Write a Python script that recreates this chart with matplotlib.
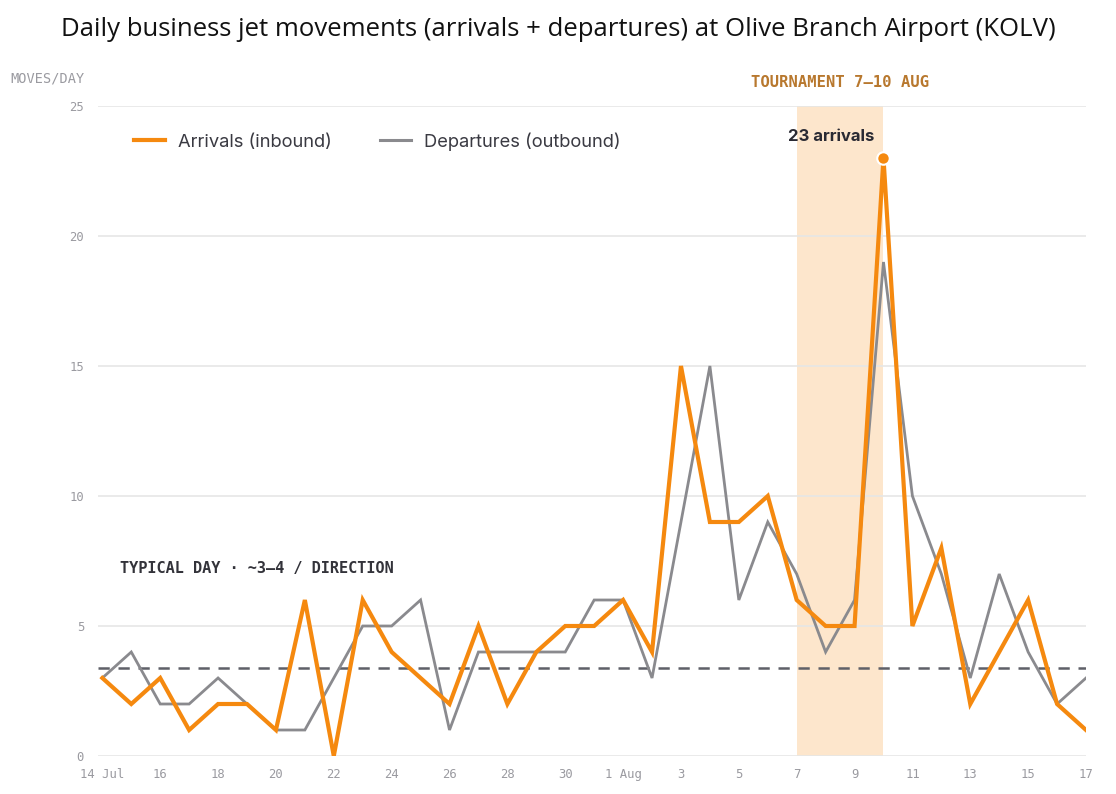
import matplotlib
matplotlib.use("Agg")
import matplotlib.pyplot as plt
from matplotlib.lines import Line2D

# ---- data ----
tick_labels = ["14 Jul", "16", "18", "20", "22", "24", "26", "28", "30", "1 Aug",
               "3", "5", "7", "9", "11", "13", "15", "17"]
days = list(range(35))  # 14 Jul .. 17 Aug
arrivals = [3, 2, 3, 1, 2, 2, 1, 6, 0, 6, 4, 3, 2, 5, 2, 4, 5, 5,
            6, 4, 15, 9, 9, 10, 6, 5, 5, 23, 5, 8, 2, 4, 6, 2, 1]
departures = [3, 4, 2, 2, 3, 2, 1, 1, 3, 5, 5, 6, 1, 4, 4, 4, 4, 6,
              6, 3, 9, 15, 6, 9, 7, 4, 6, 19, 10, 7, 3, 7, 4, 2, 3]
typical = 3.4
band_start, band_end = 24, 27  # 7 Aug .. 10 Aug
peak_idx = 27

ORANGE = "#F5890F"
GRAY = "#8A8A8E"
BAND = "#FDE6CC"
MONO = "DejaVu Sans Mono"

fig = plt.figure(figsize=(11.16, 7.94), dpi=100)
ax = fig.add_axes([98/1116, 38/794, (1086-98)/1116, (756-106)/794])

ax.axvspan(band_start, band_end, color=BAND, lw=0, zorder=0)
for y in [0, 5, 10, 15, 20, 25]:
    ax.axhline(y, color="#E6E6E6", lw=1.2, zorder=0.5)

ax.axhline(typical, color="#5F6068", lw=1.8, ls=(0, (4.5, 3.5)), zorder=1)
ax.plot(days, departures, color=GRAY, lw=2.0, zorder=2, solid_joinstyle="miter")
ax.plot(days, arrivals, color=ORANGE, lw=3.0, zorder=3, solid_joinstyle="miter")
ax.plot([days[peak_idx]], [arrivals[peak_idx]], "o", color=ORANGE, ms=9,
        mec="white", mew=1.5, zorder=4)
ax.text(days[peak_idx] - 0.3, arrivals[peak_idx] + 0.55, "23 arrivals",
        ha="right", va="bottom", fontsize=12, fontweight="bold",
        color="#2A2A33", family="Inter")

ax.set_xlim(-0.15, 34)
ax.set_ylim(0, 25)
ax.set_xticks(days[::2])
ax.set_xticklabels(tick_labels)
ax.set_yticks([0, 5, 10, 15, 20, 25])
for s in ax.spines.values():
    s.set_visible(False)
ax.tick_params(length=0, labelsize=8.8, labelcolor="#9A9AA0")
ax.tick_params(axis="x", pad=16)
ax.tick_params(axis="y", pad=10)
for lab in ax.get_xticklabels():
    lab.set_family(MONO)
    lab.set_verticalalignment("baseline")
for lab in ax.get_yticklabels():
    lab.set_family(MONO)

fig.text(10/1116, 1 - 78/794, "MOVES/DAY", fontsize=9.8, color="#9A9AA0",
         family=MONO, va="center", ha="left")
ax.text(0.6, 7.2, "TYPICAL DAY · ~3–4 / DIRECTION", fontsize=11,
        fontweight="bold", color="#33333A", family=MONO, va="center")
ax.text(25.5, 25.6, "TOURNAMENT 7–10 AUG", fontsize=11.2, fontweight="bold",
        color="#B8782E", family=MONO, va="bottom", ha="center")

handles = [Line2D([], [], color=ORANGE, lw=3), Line2D([], [], color=GRAY, lw=2.2)]
leg = ax.legend(handles, ["Arrivals (inbound)", "Departures (outbound)"],
                loc="upper left", bbox_to_anchor=(0.02, 0.985), ncol=2, frameon=False,
                prop={"family": "Inter", "size": 13.2}, handlelength=1.7,
                columnspacing=2.6, handletextpad=0.7)
for t in leg.get_texts():
    t.set_color("#3A3A42")

fig.text(0.5, 1 - 29/794, "Daily business jet movements (arrivals + departures) at Olive Branch Airport (KOLV)",
         ha="center", va="center", fontsize=18.5, family="Open Sans", color="#111111")

fig.savefig("out.png", dpi=100)
